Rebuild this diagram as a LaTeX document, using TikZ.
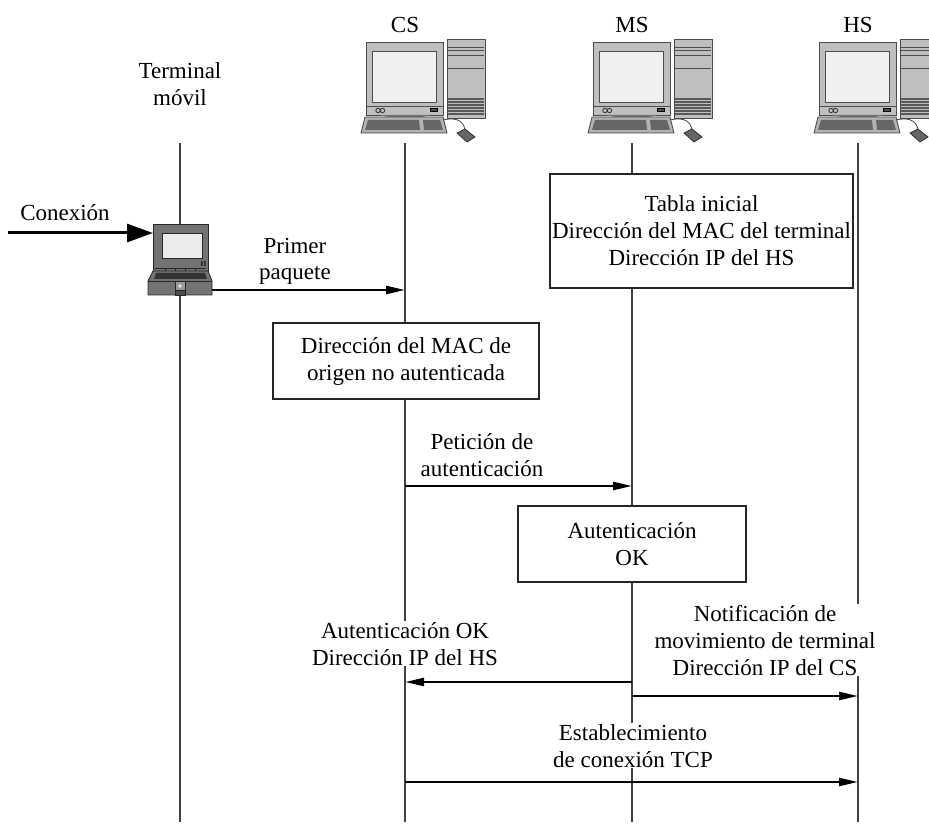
\documentclass[tikz,border=0pt]{standalone}
\usepackage{fontspec}
\setmainfont{LiberationSerif}[Extension=.ttf, UprightFont=*-Regular, BoldFont=*-Bold, ItalicFont=*-Italic, BoldItalicFont=*-BoldItalic]
\usetikzlibrary{arrows.meta}

\begin{document}
\begin{tikzpicture}[x=1pt,y=-1pt,
    every node/.style={font=\rmfamily\fontsize{23}{27}\selectfont, inner sep=0pt},
    life/.style={black!75, line width=1.2pt},
    msg/.style={-{Triangle[length=19pt,width=8pt]}, line width=2.4pt},
    entry/.style={-{Triangle[length=26pt,width=18pt]}, line width=3pt},
    lbl/.style={align=center, fill=white, inner sep=1pt, anchor=base},
    note/.style={draw=black!85, line width=1.2pt, fill=white, align=center},
    pc/.pic={
        % torre
        \filldraw[fill=black!25, draw=black!70, line width=0.8pt] (42,39) rectangle (80,118);
        \foreach \y in {47,50,55,68} \draw[black!70, line width=0.8pt] (43,\y) -- (79,\y);
        \foreach \y in {99,102,105,108,111,114} \draw[black!65, line width=1.3pt] (43,\y) -- (79,\y);
        % monitor
        \filldraw[fill=black!25, draw=black!70, line width=0.8pt] (-39,42) rectangle (38,115);
        \filldraw[fill=black!6, draw=black!70, line width=0.8pt] (-33,51) rectangle (31,102);
        \draw[black!70, line width=0.8pt] (-39,106) -- (38,106);
        \draw[black!80, line width=0.8pt] (-27,110.5) circle (2.2pt) (-22.5,110.5) circle (2.2pt);
        \filldraw[fill=black!70] (25,108) rectangle (32,111);
        \fill[black!55] (-27,115) .. controls (-10,119) and (10,119) .. (27,115) -- cycle;
        % teclado
        \filldraw[fill=black!30, draw=black!75, line width=0.8pt] (-40,117) -- (38,117) -- (42,133) -- (-44,133) -- cycle;
        \fill[black!60] (-37,120) -- (14,120) -- (15,130) -- (-40,130) -- cycle;
        \fill[black!60] (18,120) -- (35,120) -- (38,130) -- (19,130) -- cycle;
        % raton
        \draw[black!75, line width=0.8pt] (38,120) .. controls (55,116) and (60,124) .. (60,132);
        \filldraw[fill=black!60, draw=black!80, line width=0.8pt] (52,133) -- (60,129) -- (70,137) -- (62,142) -- cycle;
    },
    laptop/.pic={
        \filldraw[fill=black!55, draw=black!85, line width=0.8pt] (-27,224) -- (28,224) -- (28,271) -- (-27,271) -- cycle;
        \filldraw[fill=black!8, draw=black!85, line width=0.8pt] (-18,233) rectangle (22,258);
        \fill[black!85] (21,261) rectangle (22.5,266) (24,261) rectangle (25.5,266);
        \draw[black!85, line width=0.6pt] (-25,268) -- (26,268);
        \foreach \x in {-15,-5,5,15} \draw[black!85, line width=0.6pt] (\x,268) -- (\x,271);
        \filldraw[fill=black!55, draw=black!85, line width=0.8pt] (-27,271) -- (28,271) -- (32,281) -- (32,295) -- (-32,295) -- (-32,281) -- cycle;
        \fill[black!80] (-24,273) -- (25,273) -- (27,279) -- (-26,279) -- cycle;
        \draw[black!85, line width=0.6pt] (-32,281) -- (32,281);
        \filldraw[fill=black!40, draw=black!85, line width=0.6pt] (-5,281) rectangle (5,290);
        \fill[black!10] (0,286) circle (1.8pt);
        \filldraw[fill=black!70, draw=black!85, line width=0.6pt] (-5,290) rectangle (5,295);
        \coordinate (-w) at (-27,233);
        \coordinate (-e) at (32,290);
    }]
    \useasboundingbox (0,0) rectangle (929,826);

    % lineas de vida
    \coordinate (tm) at (180,143);
    \coordinate (cs) at (405,143);
    \coordinate (ms) at (632,143);
    \coordinate (hs) at (858,143);
    \coordinate (bot) at (0,822);
    \foreach \l in {tm,cs,ms,hs} \draw[life] (\l) -- (\l |- bot);

    % cabeceras
    \node[lbl] (tmlbl) at (180,106) {Terminal\\móvil};
    \node[lbl] (cslbl) at (405,33) {CS};
    \node[lbl] (mslbl) at (632,33) {MS};
    \node[lbl] (hslbl) at (858,33) {HS};
    \pic at (cs |- 0,0) {pc};
    \pic at (ms |- 0,0) {pc};
    \pic at (hs |- 0,0) {pc};
    \pic (lap) at (tm |- 0,0) {laptop};

    % conexion y primer paquete
    \coordinate (con) at (8,233);
    \node[lbl] (conlbl) at (65,221) {Conexión};
    \draw[entry] (con) -- (lap-w);
    \node[lbl] (prim) at (295,280) {Primer\\paquete};
    \draw[msg] (lap-e) -- (cs |- lap-e);

    % tablas
    \node[note, minimum width=303pt, minimum height=114pt] (tabla) at (701.5,231) {Tabla inicial\\Dirección del MAC del terminal\\Dirección IP del HS};
    \node[note, minimum width=266pt, minimum height=76pt] (mac) at (406,361) {Dirección del MAC de\\origen no autenticada};

    % autenticacion
    \node[lbl] (pet) at (482,476) {Petición de\\autenticación};
    \coordinate (ypet) at (0,486);
    \draw[msg] (cs |- ypet) -- (ms |- ypet);
    \node[note, minimum width=228pt, minimum height=76pt] (auth) at (ms |- 0,544) {Autenticación\\OK};

    % respuestas
    \node[lbl] (ok) at (405,665) {Autenticación OK\\Dirección IP del HS};
    \node[lbl] (notif) at (765,675) {Notificación de\\movimiento de terminal\\Dirección IP del CS};
    \coordinate (yok) at (0,682);
    \coordinate (ynotif) at (0,696);
    \draw[msg] (ms |- yok) -- (cs |- yok);
    \draw[msg] (ms |- ynotif) -- (hs |- ynotif);

    % conexion TCP
    \node[lbl] (tcp) at (633,767) {Establecimiento\\de conexión TCP};
    \coordinate (ytcp) at (0,782);
    \draw[msg] (cs |- ytcp) -- (hs |- ytcp);
\end{tikzpicture}
\end{document}
